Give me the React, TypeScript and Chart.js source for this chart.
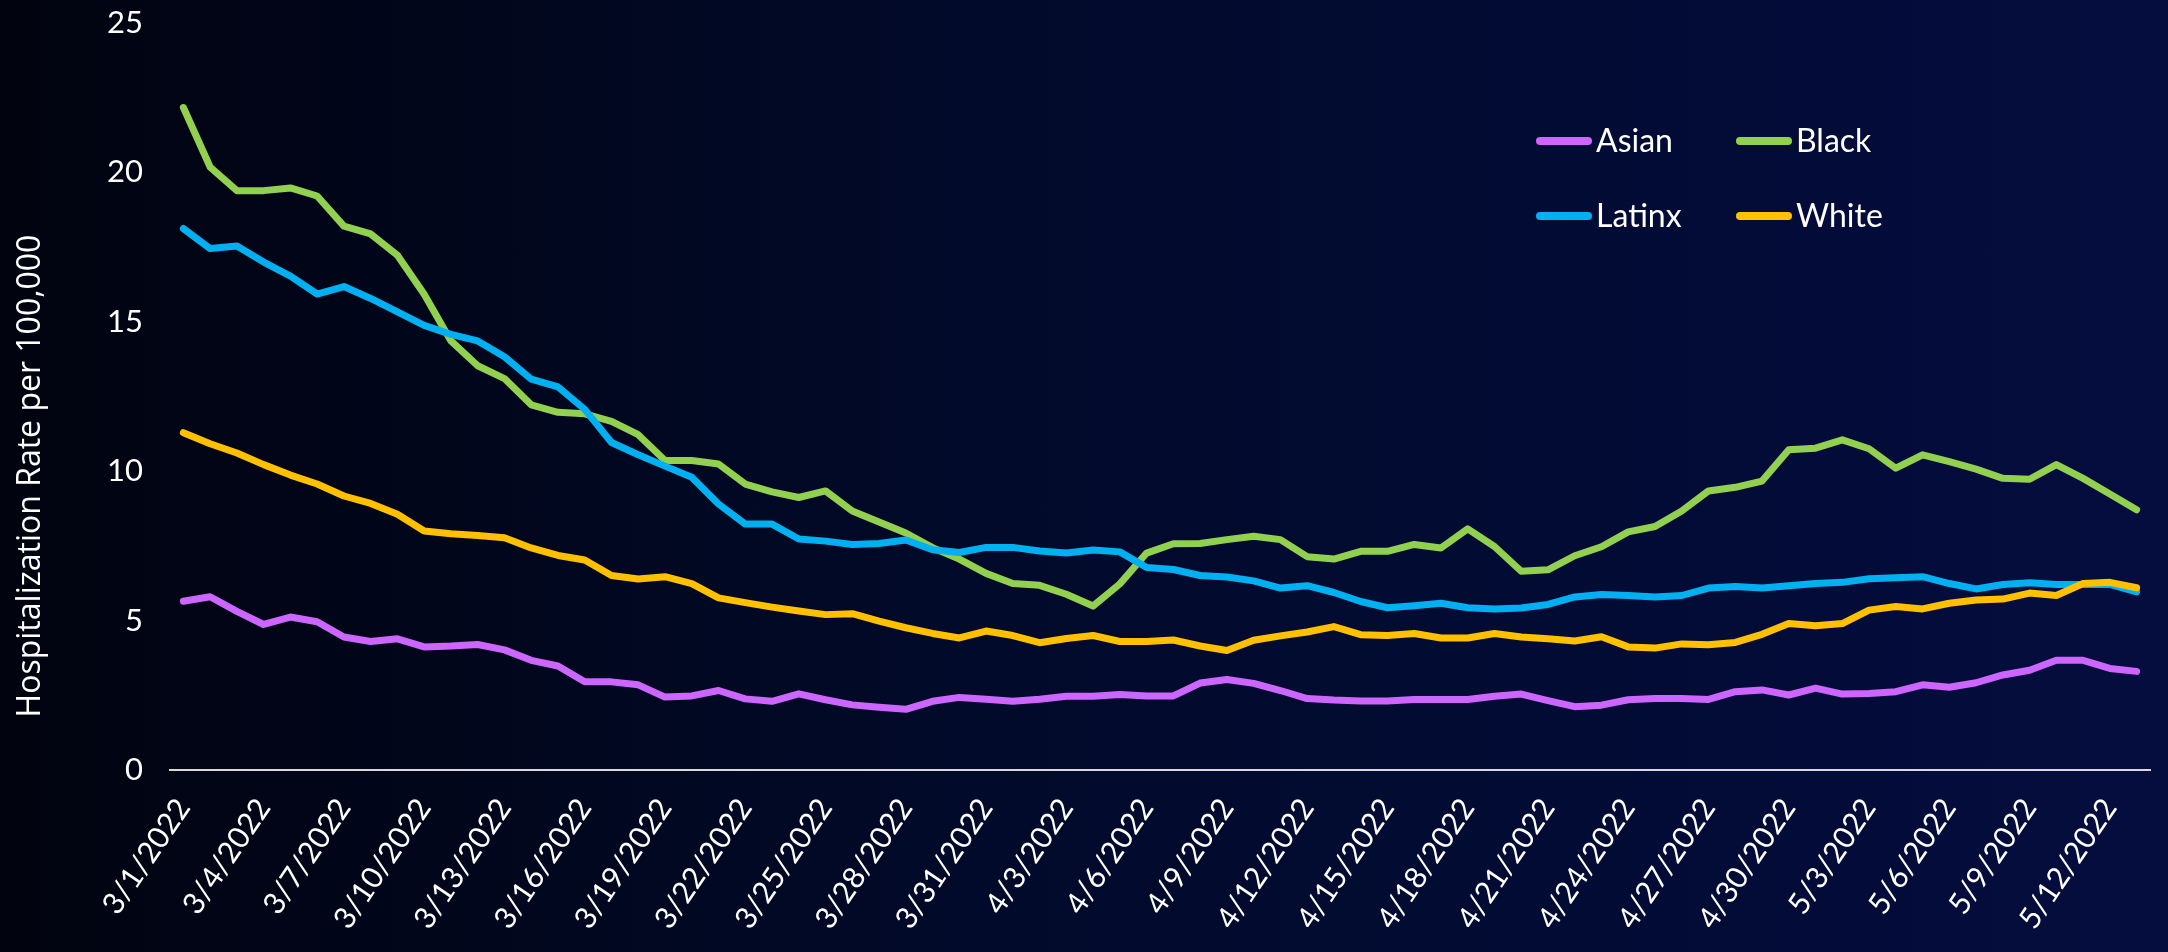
import React, { useEffect, useRef } from "react";
import { Chart, registerables } from "chart.js";

Chart.register(...registerables);

const categories = [
  "3/1/2022", "3/2/2022", "3/3/2022", "3/4/2022", "3/5/2022", "3/6/2022", "3/7/2022", "3/8/2022",
  "3/9/2022", "3/10/2022", "3/11/2022", "3/12/2022", "3/13/2022", "3/14/2022", "3/15/2022", "3/16/2022",
  "3/17/2022", "3/18/2022", "3/19/2022", "3/20/2022", "3/21/2022", "3/22/2022", "3/23/2022", "3/24/2022",
  "3/25/2022", "3/26/2022", "3/27/2022", "3/28/2022", "3/29/2022", "3/30/2022", "3/31/2022",
  "4/1/2022", "4/2/2022", "4/3/2022", "4/4/2022", "4/5/2022", "4/6/2022", "4/7/2022", "4/8/2022",
  "4/9/2022", "4/10/2022", "4/11/2022", "4/12/2022", "4/13/2022", "4/14/2022", "4/15/2022", "4/16/2022",
  "4/17/2022", "4/18/2022", "4/19/2022", "4/20/2022", "4/21/2022", "4/22/2022", "4/23/2022", "4/24/2022",
  "4/25/2022", "4/26/2022", "4/27/2022", "4/28/2022", "4/29/2022", "4/30/2022",
  "5/1/2022", "5/2/2022", "5/3/2022", "5/4/2022", "5/5/2022", "5/6/2022", "5/7/2022", "5/8/2022",
  "5/9/2022", "5/10/2022", "5/11/2022", "5/12/2022", "5/13/2022",
];

const asian = [
  5.65, 5.8, 5.31, 4.87, 5.12, 4.96, 4.45, 4.3, 4.39, 4.12, 4.15, 4.2, 4.02, 3.67, 3.48, 2.95,
  2.95, 2.85, 2.44, 2.48, 2.66, 2.38, 2.3, 2.55, 2.35, 2.18, 2.1, 2.03, 2.3, 2.43, 2.37,
  2.3, 2.37, 2.47, 2.47, 2.53, 2.48, 2.48, 2.91, 3.03, 2.9, 2.66, 2.39, 2.34, 2.31, 2.31,
  2.36, 2.36, 2.36, 2.47, 2.54, 2.32, 2.12, 2.17, 2.35, 2.39, 2.39, 2.36, 2.62, 2.68, 2.51,
  2.74, 2.54, 2.56, 2.62, 2.85, 2.77, 2.92, 3.18, 3.34, 3.67, 3.67, 3.4, 3.3,
];

const black = [
  22.17, 20.18, 19.39, 19.39, 19.48, 19.21, 18.2, 17.94, 17.23, 15.92, 14.36, 13.53, 13.1, 12.22, 11.97, 11.92,
  11.67, 11.22, 10.36, 10.36, 10.24, 9.57, 9.31, 9.12, 9.34, 8.67, 8.3, 7.93, 7.44, 7.06, 6.58,
  6.24, 6.18, 5.88, 5.49, 6.23, 7.26, 7.57, 7.58, 7.71, 7.82, 7.71, 7.14, 7.06, 7.32, 7.32,
  7.55, 7.43, 8.07, 7.48, 6.65, 6.7, 7.17, 7.47, 7.97, 8.15, 8.67, 9.34, 9.46, 9.67, 10.72,
  10.77, 11.05, 10.75, 10.1, 10.55, 10.32, 10.07, 9.76, 9.73, 10.22, 9.76, 9.24, 8.71,
];

const latinx = [
  18.12, 17.45, 17.54, 17.0, 16.53, 15.93, 16.18, 15.78, 15.33, 14.88, 14.58, 14.36, 13.83, 13.08, 12.82, 12.07,
  10.96, 10.55, 10.17, 9.8, 8.9, 8.23, 8.23, 7.73, 7.66, 7.55, 7.58, 7.7, 7.37, 7.28, 7.45,
  7.45, 7.33, 7.26, 7.36, 7.3, 6.78, 6.71, 6.51, 6.46, 6.33, 6.09, 6.17, 5.94, 5.64, 5.43,
  5.5, 5.58, 5.43, 5.39, 5.42, 5.54, 5.79, 5.87, 5.84, 5.79, 5.84, 6.09, 6.14, 6.09, 6.17,
  6.24, 6.28, 6.4, 6.43, 6.47, 6.24, 6.06, 6.21, 6.27, 6.21, 6.21, 6.21, 5.96,
];

const white = [
  11.29, 10.92, 10.61, 10.22, 9.87, 9.57, 9.17, 8.92, 8.56, 8.0, 7.91, 7.85, 7.77, 7.43, 7.18, 7.03,
  6.51, 6.39, 6.47, 6.24, 5.76, 5.6, 5.45, 5.32, 5.2, 5.23, 4.98, 4.76, 4.57, 4.42, 4.65,
  4.5, 4.26, 4.4, 4.5, 4.3, 4.3, 4.35, 4.15, 4.0, 4.34, 4.49, 4.62, 4.8, 4.53, 4.5,
  4.57, 4.42, 4.42, 4.57, 4.45, 4.39, 4.32, 4.46, 4.12, 4.08, 4.22, 4.19, 4.27, 4.54, 4.9,
  4.83, 4.9, 5.35, 5.47, 5.39, 5.58, 5.69, 5.72, 5.92, 5.84, 6.24, 6.28, 6.1,
];

const seriesNames = ["Asian", "Black", "Latinx", "White"];
const seriesColors = ["#CC66FF", "#92D050", "#00B0F0", "#FFC000"];
const seriesValues = [asian, black, latinx, white];
const yTitle = "Hospitalization Rate per 100,000";
const yMin = 0;
const yMax = 25;
const yStep = 5;
const labelEvery = 3;

const legendPlugin = {
  id: "gridLegend",
  afterDraw(chart: any) {
    const ctx = chart.ctx as CanvasRenderingContext2D;
    const cols = [1536, 1736];
    const rows = [141, 216];
    ctx.save();
    chart.data.datasets.forEach((ds: any, i: number) => {
      const x = cols[i % 2];
      const y = rows[Math.floor(i / 2)];
      ctx.strokeStyle = ds.borderColor;
      ctx.lineWidth = 8;
      ctx.lineCap = "round";
      ctx.beginPath();
      ctx.moveTo(x + 4, y);
      ctx.lineTo(x + 52, y);
      ctx.stroke();
      ctx.fillStyle = "#FFFFFF";
      ctx.font = "32px Lato";
      ctx.textAlign = "left";
      ctx.textBaseline = "middle";
      ctx.fillText(ds.label, x + 60, y + 1);
    });
    ctx.restore();
  },
};

const yTitlePlugin = {
  id: "yTitle",
  afterDraw(chart: any) {
    const ctx = chart.ctx as CanvasRenderingContext2D;
    ctx.save();
    ctx.translate(31, 476);
    ctx.rotate(-Math.PI / 2);
    ctx.fillStyle = "#FFFFFF";
    ctx.font = "32px 'Open Sans'";
    ctx.textAlign = "center";
    ctx.textBaseline = "middle";
    ctx.fillText(yTitle, 0, 0);
    ctx.restore();
  },
};

export default function App() {
  const ref = useRef<HTMLCanvasElement>(null);

  useEffect(() => {
    document.body.style.margin = "0";
    const canvas = ref.current!;
    const chart = new Chart(canvas, {
      type: "line",
      data: {
        labels: categories,
        datasets: seriesValues.map((vals, i) => ({
          label: seriesNames[i],
          data: vals,
          borderColor: seriesColors[i],
          backgroundColor: seriesColors[i],
          borderWidth: 7,
          pointRadius: 0,
          pointHoverRadius: 0,
          tension: 0,
          borderCapStyle: "round",
          borderJoinStyle: "round",
          fill: false,
          order: seriesNames.length - i,
        })),
      },
      options: {
        animation: false,
        responsive: false,
        devicePixelRatio: 1,
        layout: { padding: { top: 23, right: 18, left: 0, bottom: 0 } },
        plugins: {
          legend: { display: false },
          tooltip: { enabled: false },
          title: { display: false },
        },
        scales: {
          x: {
            type: "category",
            offset: true,
            grid: { display: false, drawTicks: false },
            border: { display: true, color: "#D9D9D9", width: 2 },
            ticks: {
              autoSkip: false,
              minRotation: 56,
              maxRotation: 56,
              padding: 22,
              color: "#FFFFFF",
              font: { family: "Lato", size: 30 },
              callback: (_v: any, i: number) => (i % labelEvery === 0 ? categories[i] : ""),
            },
            afterFit: (s: any) => {
              s.height = 182;
              s.paddingLeft = 0;
              s.paddingRight = 0;
            },
          },
          y: {
            min: yMin,
            max: yMax,
            grid: { display: false, drawTicks: false },
            border: { display: false },
            ticks: {
              stepSize: yStep,
              padding: 27,
              color: "#FFFFFF",
              font: { family: "Lato", size: 31 },
            },
            afterFit: (s: any) => {
              s.width = 170;
              s.paddingTop = 0;
              s.paddingBottom = 0;
            },
          },
        },
      },
      plugins: [legendPlugin, yTitlePlugin],
    } as any);
    return () => chart.destroy();
  }, []);

  return (
    <div
      style={{
        position: "fixed",
        left: 0,
        top: 0,
        width: 2168,
        height: 952,
        background: "linear-gradient(90deg, #01030f 0%, #010a2a 45%, #040d3e 100%)",
      }}
    >
      <canvas ref={ref} width={2168} height={952} style={{ display: "block", width: 2168, height: 952 }} />
    </div>
  );
}
